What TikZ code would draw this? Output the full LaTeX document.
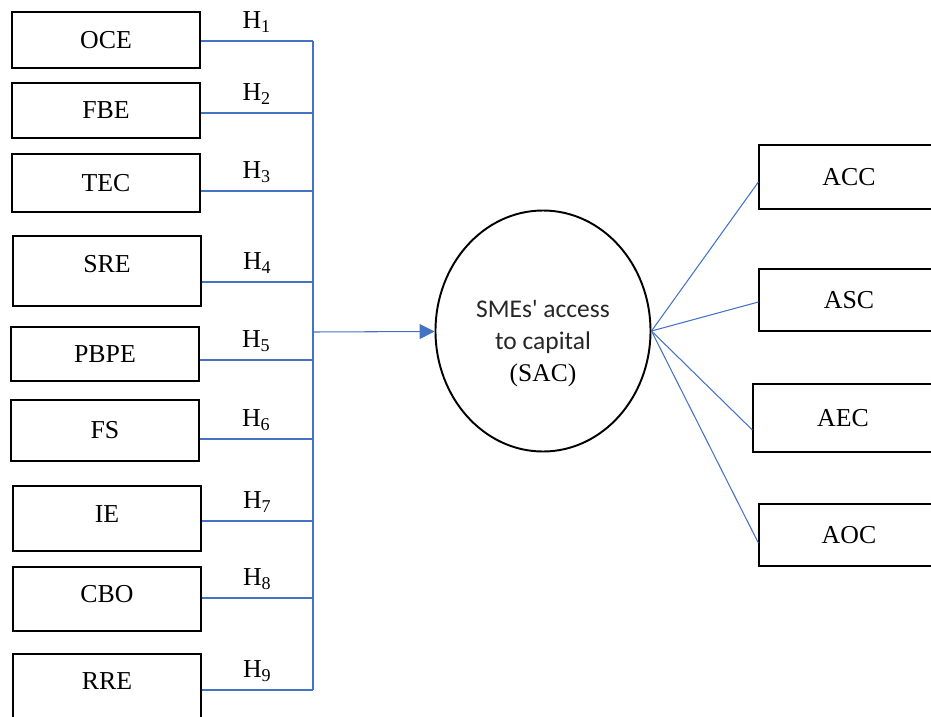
\documentclass[tikz,border=0pt]{standalone}
\usepackage{fontspec}
\setmainfont{Liberation Serif}
\newfontfamily\calibri{Carlito}
\newfontfamily\timesfont{Liberation Serif}
\usetikzlibrary{shapes.geometric, arrows.meta, positioning}
\newlength{\px}
\setlength{\px}{0.02cm}
\newlength{\w}
\setlength{\w}{188\px}
\definecolor{linkcolor}{HTML}{4472C4}
\tikzset{var/.style={draw, line width=0.7pt, minimum width=\w, inner sep=0pt, font=\fontsize{14.7}{17}\selectfont}}
\tikzset{construct/.style={ellipse, draw, line width=1.1pt, minimum width=215\px, minimum height=241\px, inner sep=0pt, font=\fontsize{14.5}{18.2}\selectfont}}
\tikzset{link/.style={draw=linkcolor, line width=0.6pt}}
\tikzset{hyp/.style={above=8\px, inner sep=0pt, font=\fontsize{14.7}{17}\selectfont}}

\begin{document}
\begin{tikzpicture}[x=\px, y=-\px]
	\useasboundingbox (0,0) rectangle (931,717);
	
	%%% NODES %%%
	
	% DETERMINANTS
	\node[var, minimum height=56\px] at (106,40) (oce) {OCE};
	\node[var, minimum height=55\px] at (106,110.5) (fbe) {FBE};
	\node[var, minimum height=58\px] at (106,183) (tec) {TEC};
	\node[var, minimum height=70\px, text depth=14\px] at (107,271) (sre) {SRE};
	\node[var, minimum height=54\px] at (105,354) (pbpe) {PBPE};
	\node[var, minimum height=61\px] at (105,430.5) (fs) {FS};
	\node[var, minimum height=65\px, text depth=9\px] at (107,518.5) (ie) {IE};
	\node[var, minimum height=64\px, text depth=10\px] at (107,599) (cbo) {CBO};
	\node[var, minimum height=68\px, text depth=14\px] at (107,688) (rre) {RRE};
	
	% ACCESS TO CAPITAL
	\node[construct] at (543,331) (sac) {\begin{tabular}{@{}c@{}}
		\rule{0pt}{26pt}\calibri\color{black!85}SMEs\textquotesingle{} access\\
		\calibri\color{black!85}to capital\\
		\timesfont (SAC)
	\end{tabular}};
	
	% INDICATORS
	\node[var, minimum width=180\px, minimum height=64\px] at (849,177) (acc) {ACC};
	\node[var, minimum width=180\px, minimum height=62\px] at (849,300) (asc) {ASC};
	\node[var, minimum width=180\px, minimum height=68\px] at (843,418) (aec) {AEC};
	\node[var, minimum width=180\px, minimum height=62\px] at (849,535) (aoc) {AOC};
	
	%%% ARROWS %%%
	
	% HYPOTHESES
	\coordinate (bus) at (313,332);
	\coordinate (oce-out) at ([yshift=-1\px]oce.east);
	\coordinate (fbe-out) at ([yshift=-2.5\px]fbe.east);
	\coordinate (tec-out) at ([yshift=-8\px]tec.east);
	\coordinate (sre-out) at ([yshift=-11\px]sre.east);
	\coordinate (pbpe-out) at ([yshift=-6\px]pbpe.east);
	\coordinate (fs-out) at ([yshift=-8.5\px]fs.east);
	\coordinate (ie-out) at ([yshift=-2.5\px]ie.east);
	\coordinate (cbo-out) at ([yshift=1\px]cbo.east);
	\coordinate (rre-out) at ([yshift=-2\px]rre.east);
	\draw[link] (oce-out) -- (oce-out -| bus) node[hyp, midway] (h1) {H\textsubscript{1}};
	\draw[link] (fbe-out) -- (fbe-out -| bus) node[hyp, midway] (h2) {H\textsubscript{2}};
	\draw[link] (tec-out) -- (tec-out -| bus) node[hyp, midway] (h3) {H\textsubscript{3}};
	\draw[link] (sre-out) -- (sre-out -| bus) node[hyp, midway] (h4) {H\textsubscript{4}};
	\draw[link] (pbpe-out) -- (pbpe-out -| bus) node[hyp, midway] (h5) {H\textsubscript{5}};
	\draw[link] (fs-out) -- (fs-out -| bus) node[hyp, midway] (h6) {H\textsubscript{6}};
	\draw[link] (ie-out) -- (ie-out -| bus) node[hyp, midway] (h7) {H\textsubscript{7}};
	\draw[link] (cbo-out) -- (cbo-out -| bus) node[hyp, midway] (h8) {H\textsubscript{8}};
	\draw[link] (rre-out) -- (rre-out -| bus) node[hyp, midway] (h9) {H\textsubscript{9}};
	\draw[link] (oce-out -| bus) -- (rre-out -| bus);
	\draw[link, -{Triangle[length=0.3cm, width=0.3cm]}] (bus) -- (sac);
	
	% INDICATORS
	\draw[link] (sac.east) -- ([yshift=-5\px]acc.west);
	\draw[link] (sac.east) -- ([yshift=-2\px]asc.west);
	\draw[link] (sac.east) -- ([yshift=-12\px]aec.west);
	\draw[link] (sac.east) -- ([yshift=-8\px]aoc.west);
	
\end{tikzpicture}
\end{document}
